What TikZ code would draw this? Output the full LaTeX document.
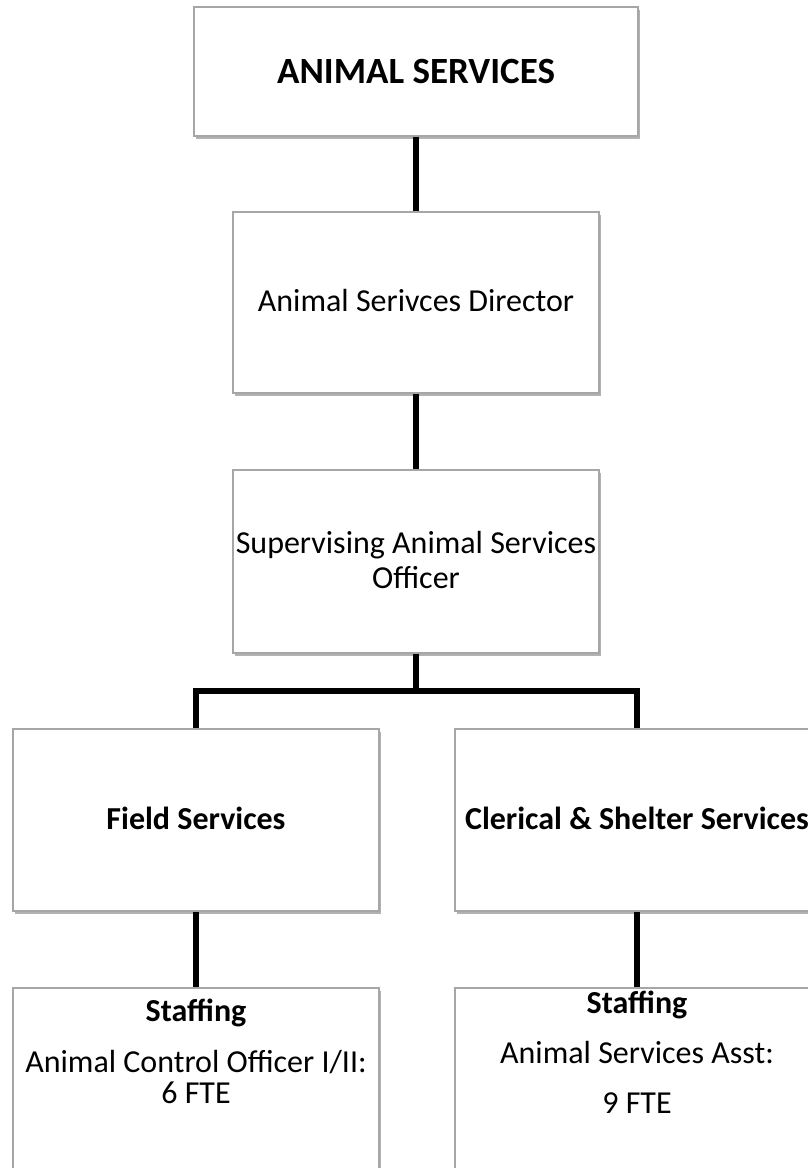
\documentclass[tikz,border=0pt]{standalone}
\usepackage{fontspec}
\setmainfont{Carlito}
\usetikzlibrary{shadows}
\begin{document}
\begin{tikzpicture}[x=1pt,y=1pt,
  box/.style={draw=gray!70, line width=1.1pt, fill=white, rectangle, inner sep=0pt,
    drop shadow={shadow xshift=1.5pt, shadow yshift=-3pt, opacity=0.3, fill=black}},
  conn/.style={line width=5.5pt, black, line join=miter},
  txt/.style={font=\fontsize{32}{36}\selectfont, align=center, inner sep=0pt},
  btxt/.style={font=\fontsize{32}{36}\selectfont\bfseries, align=center, inner sep=0pt},
  htxt/.style={font=\fontsize{37}{40}\selectfont\bfseries, align=center, inner sep=0pt}]
\clip (0,0) rectangle (808,-1168);
\fill[white] (0,0) rectangle (808,-1168);
% boxes
\node[box, minimum width=444pt, minimum height=129pt] (b1) at (416,-71.5) {};
\node[box, minimum width=366pt, minimum height=181pt] (b2) at (416,-302.5) {};
\node[box, minimum width=366pt, minimum height=183pt] (b3) at (416,-561.5) {};
\node[box, minimum width=366pt, minimum height=182pt] (b4) at (196,-820) {};
\node[box, minimum width=366pt, minimum height=182pt] (b5) at (638,-820) {};
\node[box, minimum width=366pt, minimum height=190pt] (b6) at (196,-1083) {};
\node[box, minimum width=366pt, minimum height=190pt] (b7) at (638,-1083) {};
% texts
\node[htxt, anchor=base] (t1) at (416,-83) {ANIMAL SERVICES};
\node[txt, anchor=base] (t2) at (416,-311) {Animal Serivces Director};
\node[txt, anchor=base] (t3a) at (416,-553) {Supervising Animal Services};
\node[txt, anchor=base] (t3b) at (416,-588) {Officer};
\node[btxt, anchor=base] (t4) at (196,-829) {Field Services};
\node[btxt, anchor=base] (t5) at (637,-829) {Clerical \& Shelter Services};
\node[btxt, anchor=base] (t6a) at (196,-1021) {Staffing};
\node[txt, anchor=base] (t6b) at (196,-1072) {Animal Control Officer I/II:};
\node[txt, anchor=base] (t6c) at (196,-1103) {6 FTE};
\node[btxt, anchor=base] (t7a) at (637,-1013) {Staffing};
\node[txt, anchor=base] (t7b) at (637,-1063) {Animal Services Asst:};
\node[txt, anchor=base] (t7c) at (637,-1113) {9 FTE};
% connectors
\coordinate (bar) at (416,-691);
\draw[conn] (b1.south) -- (b2.north);
\draw[conn] (b2.south) -- (b3.north);
\draw[conn] (b3.south) -- (bar);
\draw[conn] (b4.north) |- (bar) -| ([xshift=-1pt]b5.north);
\draw[conn] (b4.south) -- (b6.north);
\draw[conn] ([xshift=-1pt]b5.south) -- ([xshift=-1pt]b7.north);
\end{tikzpicture}
\end{document}
